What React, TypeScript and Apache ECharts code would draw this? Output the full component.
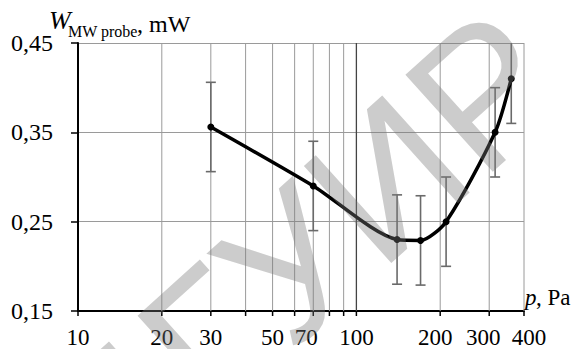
import React, { useEffect, useRef } from "react";
import * as echarts from "echarts";

// Measured data (pressure p in Pa, probe power W in mW)
const pressure = [30, 70, 140, 170, 210, 315, 360];
const power = [0.356, 0.29, 0.23, 0.229, 0.25, 0.35, 0.41];
const errorHalf = [0.05, 0.05, 0.05, 0.05, 0.05, 0.05, 0.05];

// Axis ticks
const xGridValues = [10, 20, 30, 40, 50, 60, 70, 80, 90, 100, 200, 300, 400];
const xLabelValues = [10, 20, 30, 50, 70, 100, 200, 300, 400];
const xMin = 10;
const xMax = 400;
const yMin = 0.15;
const yMax = 0.45;
const yStep = 0.1;

// label nudges (style only, pixels)
const xLabelNudge: Record<number, number> = { 70: -7, 200: -5, 300: -6, 400: 5 };

const SERIF = "Liberation Serif";

export default function App() {
  const ref = useRef<HTMLDivElement>(null);

  useEffect(() => {
    if (!ref.current) return;
    const chart = echarts.init(ref.current, undefined, { renderer: "svg" });

    const errData = pressure.map((p, i) => [p, power[i] - errorHalf[i], power[i] + errorHalf[i]]);
    const gridData = xGridValues.map((v) => [v]);

    const option: any = {
      animation: false,
      backgroundColor: "#fff",
      textStyle: { fontFamily: SERIF },
      grid: { left: 78, right: 54, top: 43, bottom: 38 },
      xAxis: {
        type: "log",
        logBase: 10,
        min: xMin,
        max: xMax,
        axisLine: { show: true, lineStyle: { color: "#000", width: 2 } },
        axisTick: { show: false },
        axisLabel: { show: false },
        splitLine: { show: false },
        minorTick: { show: false },
        minorSplitLine: { show: false },
      },
      yAxis: {
        type: "value",
        min: yMin,
        max: yMax,
        interval: yStep,
        axisLine: { show: true, onZero: false, lineStyle: { color: "#000", width: 2 } },
        axisTick: { show: true, inside: false, length: 7, lineStyle: { color: "#000", width: 1.5 } },
        axisLabel: {
          margin: 25,
          fontFamily: SERIF,
          fontSize: 24,
          color: "#000",
          formatter: (v: number) => v.toFixed(2).replace(".", ","),
        },
        splitLine: { show: true, lineStyle: { color: "#9a9a9a", width: 1 } },
      },
      series: [
        {
          type: "custom",
          name: "xgrid",
          clip: false,
          silent: true,
          z: 1,
          data: gridData,
          renderItem: (params: any, api: any) => {
            const v = api.value(0);
            const top = api.coord([v, yMax]);
            const bot = api.coord([v, yMin]);
            const children: any[] = [];
            const isAxis = v === xMin;
            if (!isAxis) {
              children.push({
                type: "line",
                shape: { x1: top[0], y1: top[1], x2: bot[0], y2: bot[1] },
                style: { stroke: v === 100 ? "#444" : "#9a9a9a", lineWidth: v === 100 ? 1.3 : 1 },
              });
            }
            children.push({
              type: "line",
              shape: { x1: bot[0], y1: bot[1], x2: bot[0], y2: bot[1] + 5 },
              style: { stroke: "#000", lineWidth: 1.5 },
            });
            if (xLabelValues.indexOf(v) >= 0) {
              children.push({
                type: "text",
                style: {
                  text: String(v),
                  x: bot[0] + (xLabelNudge[v] || 0),
                  y: bot[1] + 15,
                  align: "center",
                  verticalAlign: "top",
                  fontSize: 23,
                  fontFamily: SERIF,
                  fill: "#000",
                },
              });
            }
            return { type: "group", children };
          },
        },
        {
          type: "custom",
          name: "errors",
          clip: false,
          silent: true,
          z: 3,
          data: errData,
          renderItem: (params: any, api: any) => {
            const x = api.value(0);
            const lo = api.value(1);
            const hi = api.value(2);
            const hiClipped = Math.min(hi, yMax);
            const pLo = api.coord([x, lo]);
            const pHi = api.coord([x, hiClipped]);
            const cap = 5;
            const st = { stroke: "#6a6a6a", lineWidth: 1.6 };
            const children: any[] = [
              { type: "line", shape: { x1: pLo[0], y1: pLo[1], x2: pHi[0], y2: pHi[1] }, style: st },
              { type: "line", shape: { x1: pLo[0] - cap, y1: pLo[1], x2: pLo[0] + cap, y2: pLo[1] }, style: st },
            ];
            if (hi <= yMax) {
              children.push({ type: "line", shape: { x1: pHi[0] - cap, y1: pHi[1], x2: pHi[0] + cap, y2: pHi[1] }, style: st });
            }
            return { type: "group", children };
          },
        },
        {
          type: "line",
          name: "power",
          z: 5,
          smooth: 0.25,
          data: pressure.map((p, i) => [p, power[i]]),
          lineStyle: { color: "#000", width: 3.5 },
          itemStyle: { color: "#000" },
          symbol: "circle",
          symbolSize: 7,
        },
      ],
      graphic: [
        {
          type: "text",
          x: 49,
          y: 33,
          z: 50,
          style: { text: "W", fontSize: 26, fontStyle: "italic", fontFamily: SERIF, fill: "#000", verticalAlign: "bottom" },
        },
        {
          type: "text",
          x: 68,
          y: 39,
          z: 50,
          style: { text: "MW probe", fontSize: 16, fontFamily: SERIF, fill: "#000", verticalAlign: "bottom" },
        },
        {
          type: "text",
          x: 137,
          y: 36,
          z: 50,
          style: { text: ", mW", fontSize: 24, fontFamily: SERIF, fill: "#000", verticalAlign: "bottom" },
        },
        {
          type: "text",
          x: 525,
          y: 309,
          z: 50,
          style: { text: "p", fontSize: 23, fontStyle: "italic", fontFamily: SERIF, fill: "#000", verticalAlign: "bottom" },
        },
        {
          type: "text",
          x: 536,
          y: 309,
          z: 50,
          style: { text: ", Pa", fontSize: 23, fontFamily: SERIF, fill: "#000", verticalAlign: "bottom" },
        },
        {
          type: "text",
          x: 304,
          y: 253,
          z: 100,
          rotation: (42 * Math.PI) / 180,
          silent: true,
          style: {
            text: "БГУИР",
            fontSize: 190,
            fontFamily: "Liberation Sans",
            fill: "rgba(120,120,120,0.38)",
            align: "center",
            verticalAlign: "middle",
          },
        },
      ],
    };

    chart.setOption(option);
    return () => chart.dispose();
  }, []);

  return (
    <div
      ref={ref}
      style={{ position: "fixed", left: 0, top: 0, width: 578, height: 349, background: "#fff" }}
    />
  );
}
